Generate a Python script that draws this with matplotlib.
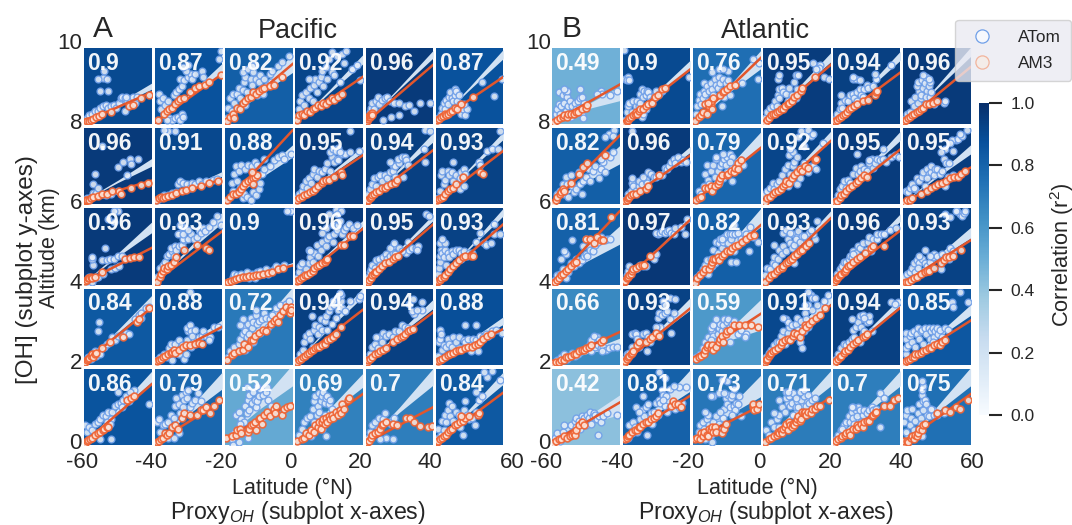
import matplotlib
matplotlib.use("Agg")
import matplotlib.pyplot as plt
from matplotlib.lines import Line2D
from matplotlib.transforms import ScaledTranslation
from matplotlib.cm import ScalarMappable
from matplotlib.colors import Normalize

plt.rcParams['font.family'] = ['Liberation Sans', 'DejaVu Sans']
plt.rcParams['mathtext.fontset'] = 'custom'
plt.rcParams['mathtext.rm'] = 'Liberation Sans'
plt.rcParams['mathtext.it'] = 'Liberation Sans:italic'
plt.rcParams['mathtext.bf'] = 'Liberation Sans:bold'
TEXT = '#262626'

LAT_TICKS = [-60, -40, -20, 0, 20, 40, 60]
ALT_TICKS = [0, 2, 4, 6, 8, 10]
R2_TICKS = [0.0, 0.2, 0.4, 0.6, 0.8, 1.0]

R2_PACIFIC = [[0.9, 0.87, 0.82, 0.92, 0.96, 0.87],
              [0.96, 0.91, 0.88, 0.95, 0.94, 0.93],
              [0.96, 0.93, 0.9, 0.96, 0.95, 0.93],
              [0.84, 0.88, 0.72, 0.94, 0.94, 0.88],
              [0.86, 0.79, 0.52, 0.69, 0.7, 0.84]]
R2_ATLANTIC = [[0.49, 0.9, 0.76, 0.95, 0.94, 0.96],
               [0.82, 0.96, 0.79, 0.92, 0.95, 0.95],
               [0.81, 0.97, 0.82, 0.93, 0.96, 0.93],
               [0.66, 0.93, 0.59, 0.91, 0.94, 0.85],
               [0.42, 0.81, 0.73, 0.71, 0.7, 0.75]]

# AM3 fit: value at the left and right edge of each subplot
FIT_PACIFIC = [[(3, 42), (2, 66), (4, 79), (2, 62), (2, 78), (2, 62)],
               [(5, 31), (3, 33), (1, 97), (5, 64), (3, 71), (2, 70)],
               [(3, 48), (3, 70), (1, 25), (2, 73), (3, 79), (2, 79)],
               [(3, 75), (3, 50), (5, 75), (3, 72), (3, 69), (3, 47)],
               [(3, 80), (3, 58), (10, 55), (4, 67), (3, 50), (3, 69)]]
FIT_ATLANTIC = [[(2, 52), (3, 72), (2, 87), (2, 78), (2, 68), (2, 75)],
                [(1, 90), (2, 64), (3, 74), (3, 83), (2, 72), (2, 48)],
                [(2, 96), (3, 85), (2, 78), (3, 87), (2, 71), (2, 58)],
                [(2, 43), (2, 74), (9, 67), (3, 78), (2, 75), (2, 58)],
                [(4, 56), (8, 65), (7, 52), (4, 63), (4, 65), (4, 67)]]

# ATom fit with confidence range: left value, right value, half range at the right edge
BAND_PACIFIC = [[(3, 50, 4), (0, 74, 6), (4, 80, 12), (0, 85, 6), (3, 92, 5), (2, 92, 6)],
                [(5, 55, 5), (3, 40, 3), (1, 70, 8), (5, 72, 4), (3, 88, 6), (2, 90, 5)],
                [(3, 75, 7), (3, 88, 7), (1, 27, 2), (2, 80, 4), (3, 88, 4), (2, 95, 5)],
                [(3, 85, 6), (3, 55, 4), (5, 90, 12), (3, 95, 6), (3, 80, 6), (3, 58, 5)],
                [(3, 90, 7), (3, 85, 11), (10, 92, 14), (4, 85, 9), (3, 90, 11), (3, 88, 8)]]
BAND_ATLANTIC = [[(5, 40, 9), (3, 78, 6), (2, 85, 12), (2, 88, 6), (2, 90, 6), (2, 95, 6)],
                 [(1, 65, 12), (2, 72, 4), (3, 85, 10), (3, 90, 6), (2, 90, 6), (2, 72, 6)],
                 [(2, 65, 12), (3, 88, 3), (2, 88, 12), (3, 92, 5), (2, 88, 5), (2, 68, 7)],
                 [(2, 30, 5), (2, 80, 8), (9, 66, 20), (3, 88, 7), (2, 83, 5), (2, 72, 7)],
                 [(12, 53, 13), (8, 85, 14), (7, 78, 14), (4, 88, 10), (4, 88, 10), (4, 90, 12)]]

ATOM_PACIFIC = [
 [[(4,8),(8,12),(12,14),(16,18),(20,17),(24,22),(28,24),(32,25),(36,22),(40,24),(44,25),(48,22),(52,28),(54,34),(56,36),(60,34),(64,30),(68,32),(72,36),(76,28),(30,70),(28,61),(34,59),(21,59),(24,44),(36,44),(60,18),(62,36),(78,36)],
  [(6,40),(8,30),(10,20),(12,35),(14,12),(16,25),(20,30),(22,8),(26,6),(30,8),(34,10),(38,6),(40,14),(42,10),(18,5),(28,38),(32,42),(36,46),(40,50),(38,60),(44,58),(50,62),(54,66),(46,70),(50,78),(42,75),(56,60),(60,66),(70,70),(72,62),(98,96),(96,86)],
  [(3,8),(5,22),(8,35),(10,18),(12,40),(14,28),(18,40),(20,48),(22,34),(26,45),(28,55),(30,62),(26,68),(32,42),(30,25),(34,72),(38,60),(40,52),(42,68),(44,78),(40,76),(46,60),(50,55),(52,65),(54,48),(48,38),(56,40),(58,60),(62,50),(66,66),(70,70),(68,55),(78,76),(84,82),(94,90)],
  [(2,10),(6,20),(8,30),(10,38),(14,25),(16,42),(20,35),(22,48),(26,30),(28,52),(30,60),(32,42),(36,55),(38,62),(40,70),(42,50),(46,75),(48,60),(50,85),(54,68),(58,65),(62,90),(66,55),(70,92),(72,80),(76,96),(84,72),(92,78),(96,58),(20,60),(55,95)],
  [(4,10),(6,16),(8,22),(10,28),(12,20),(16,30),(20,26),(18,36),(24,32),(28,34),(32,36),(36,30),(42,28),(50,28),(58,24),(64,25),(26,6),(38,10),(50,12),(72,18),(80,28),(96,28)],
  [(4,8),(8,14),(10,22),(12,28),(14,20),(16,32),(18,26),(20,36),(22,42),(24,34),(26,30),(28,38),(28,46),(30,44),(32,30),(34,38),(36,26),(38,14),(40,20),(44,12),(46,20),(42,26),(68,55),(86,37),(98,60)]],
 [[(5,8),(10,10),(14,15),(16,12),(22,12),(18,15),(28,13),(32,12),(40,14),(50,18),(63,38),(16,40),(14,27),(50,49),(58,55),(68,60),(80,60),(70,53),(26,77),(20,22)],
  [(4,6),(8,8),(14,12),(20,12),(26,15),(32,16),(34,26),(38,30),(42,28),(48,26),(52,22),(56,28),(60,26),(66,30),(70,26),(76,30),(86,32),(92,33),(20,96),(30,96),(14,98)],
  [(10,28),(12,18),(14,40),(16,50),(18,30),(20,44),(22,22),(24,52),(26,8),(28,14),(30,46),(32,10),(34,52),(36,30),(38,6),(40,50),(42,16),(44,56),(46,12),(48,52),(50,20),(52,28),(54,40),(58,46),(66,50),(72,58),(78,62),(84,64),(88,60),(98,66),(58,60)],
  [(2,8),(6,14),(10,18),(12,24),(16,30),(18,22),(20,34),(24,28),(26,40),(28,46),(32,36),(36,44),(40,42),(44,46),(48,54),(52,44),(54,62),(58,56),(62,60),(64,58),(52,68),(56,72),(64,74),(70,66),(74,66),(60,70),(66,68),(82,68),(94,70),(82,96)],
  [(2,8),(4,14),(6,20),(10,26),(12,34),(16,24),(18,36),(22,38),(24,30),(28,38),(32,34),(36,42),(40,44),(44,36),(40,52),(44,50),(36,56),(50,54),(48,60),(54,62),(58,62),(60,58),(62,52),(86,72),(88,56),(88,98),(96,96),(56,36)],
  [(4,8),(6,18),(8,38),(10,44),(12,26),(14,32),(18,44),(20,38),(24,42),(26,30),(30,38),(36,34),(38,42),(42,46),(40,34),(44,40),(36,20),(42,24),(26,55),(64,55),(66,52),(76,70),(84,72),(92,72),(96,96)]],
 [[(4,5),(8,10),(12,4),(16,8),(20,10),(14,26),(12,33),(12,36),(26,32),(34,32),(38,33),(44,34),(50,38),(56,38),(31,48),(36,86),(44,82),(50,97),(44,96),(28,14),(40,20),(46,22),(52,24)],
  [(4,10),(8,22),(12,26),(16,30),(18,38),(22,40),(26,44),(28,38),(24,48),(30,50),(32,46),(36,50),(40,52),(44,58),(42,60),(50,60),(54,66),(58,60),(62,62),(66,72),(68,68),(72,74),(74,70),(80,76),(86,82),(92,90),(98,78),(38,68),(34,66),(42,66),(44,76),(38,78),(50,72)],
  [(4,3),(8,5),(12,10),(14,14),(18,12),(24,14),(28,10),(32,16),(36,8),(40,14),(44,8),(48,16),(52,18),(56,14),(60,20),(64,14),(68,18),(72,20),(76,24),(82,22),(88,26),(96,96),(98,96),(92,96)],
  [(2,8),(6,16),(8,24),(10,28),(14,14),(16,20),(20,28),(22,36),(26,30),(28,42),(20,46),(22,44),(34,38),(32,52),(38,46),(40,56),(46,50),(48,60),(50,64),(56,56),(58,66),(62,72),(56,78),(64,78),(70,66),(72,72),(76,76),(80,80),(86,74),(92,78),(50,92),(60,98),(68,96),(62,92),(66,84),(46,74),(40,68)],
  [(3,10),(6,16),(8,20),(10,26),(14,22),(16,32),(20,34),(22,26),(26,36),(30,40),(32,34),(36,38),(40,42),(44,40),(40,50),(36,48),(42,54),(60,42),(64,46),(62,56),(68,48),(74,48),(78,50),(76,46),(90,92),(94,90),(50,48),(54,44)],
  [(3,14),(5,22),(6,30),(7,38),(8,46),(6,54),(10,42),(12,36),(14,46),(16,26),(18,42),(20,36),(24,44),(26,40),(30,46),(34,46),(38,42),(42,44),(46,38),(50,42),(54,42),(60,56),(66,68),(72,54),(74,52),(82,54),(86,66),(86,80),(96,66),(14,55),(10,60),(38,34)]],
 [[(2,5),(6,10),(10,8),(14,14),(16,18),(18,12),(22,18),(24,14),(30,24),(34,28),(38,30),(42,36),(46,32),(50,38),(56,38),(20,44),(22,56),(62,42),(66,40),(76,60),(84,62),(82,66),(84,68),(92,74),(96,76)],
  [(4,6),(8,10),(14,14),(18,10),(20,16),(22,22),(26,6),(30,20),(24,28),(30,28),(36,32),(36,14),(40,26),(44,8),(46,14),(48,32),(50,44),(48,48),(52,52),(54,44),(56,38),(60,46),(66,36),(70,38),(72,44),(76,38),(82,36),(88,50),(94,50),(54,24),(80,32),(52,96)],
  [(4,10),(8,18),(14,24),(20,28),(22,34),(26,40),(28,50),(30,44),(32,36),(34,54),(36,28),(38,62),(26,60),(40,48),(42,56),(46,66),(48,54),(46,72),(50,58),(52,42),(54,60),(58,68),(60,62),(64,50),(66,60),(70,66),(76,74),(82,78),(90,80),(94,84),(22,52),(30,20),(42,30),(36,40)],
  [(3,6),(8,14),(12,20),(14,30),(16,38),(20,42),(22,34),(26,24),(28,46),(30,52),(34,40),(36,50),(38,60),(40,46),(44,58),(46,64),(50,70),(48,46),(54,54),(52,76),(58,78),(60,62),(64,72),(68,84),(70,74),(74,70),(68,92),(82,84),(94,86),(96,90),(25,64),(62,88),(56,84),(66,94)],
  [(3,8),(6,14),(10,24),(14,28),(18,22),(20,36),(24,30),(26,42),(30,38),(34,40),(40,36),(44,44),(50,44),(54,52),(58,50),(62,48),(66,46),(71,67),(64,80),(68,70),(83,72),(84,82),(70,86),(76,72),(48,34),(16,36)],
  [(4,12),(5,30),(6,34),(7,46),(8,40),(10,20),(12,26),(16,24),(18,34),(20,28),(24,24),(26,36),(30,30),(34,36),(38,22),(42,32),(44,30),(48,34),(52,26),(56,34),(60,32),(66,38),(70,36),(44,52),(60,52),(74,40),(78,38),(84,44),(90,46),(98,42),(62,18),(34,22),(52,18)]],
 [[(2,26),(4,18),(8,24),(12,20),(16,28),(20,30),(24,34),(28,40),(32,38),(36,44),(42,44),(46,52),(50,54),(54,56),(58,60),(62,64),(66,58),(56,50),(40,34),(34,30),(40,8),(96,54),(74,72),(68,70),(24,8),(50,70),(38,28)],
  [(3,30),(6,34),(8,18),(12,26),(16,28),(20,30),(24,40),(28,36),(30,52),(32,62),(36,54),(38,42),(40,66),(44,60),(46,70),(48,62),(52,50),(56,56),(60,60),(64,68),(68,58),(72,48),(76,50),(50,72),(42,50),(20,10),(36,16),(28,10)],
  [(10,8),(14,16),(16,40),(20,44),(24,34),(28,30),(32,42),(30,52),(34,60),(32,76),(36,46),(40,56),(36,66),(42,70),(44,60),(46,50),(48,58),(50,64),(52,74),(48,78),(56,66),(60,70),(62,76),(64,60),(68,52),(12,0),(20,4),(34,10),(46,26),(54,36),(22,28)],
  [(6,14),(10,22),(14,30),(18,36),(22,38),(26,48),(28,58),(30,64),(32,40),(34,52),(36,68),(38,58),(40,64),(42,70),(44,56),(46,62),(48,64),(50,54),(52,60),(36,44),(28,30),(44,34),(24,12),(40,22),(46,12),(44,40),(54,48)],
  [(3,10),(6,18),(10,26),(14,30),(18,22),(20,36),(26,34),(28,42),(34,30),(30,10),(22,8),(38,28),(42,36),(40,8)],
  [(3,22),(4,10),(8,14),(10,32),(12,20),(16,30),(14,40),(18,46),(22,38),(26,32),(20,56),(24,52),(30,44),(34,40),(36,24),(40,14),(38,34),(42,46),(46,40),(50,34),(54,36),(58,26),(60,70),(64,60),(68,64),(76,90),(84,98),(96,86),(72,96),(60,44),(44,58)]],
]

AM3_PACIFIC = [
 [[(2,3),(5,4),(8,4),(11,5),(14,7),(18,10),(22,11),(26,13),(40,16),(66,24),(72,25),(84,34),(96,38)],
  [(5,5),(14,14),(18,17),(22,20),(26,22),(30,26),(34,30),(38,33),(44,35),(52,42),(60,48),(66,50),(74,52),(80,56),(98,65)],
  [(3,4),(8,10),(12,14),(14,8),(18,22),(22,20),(26,28),(30,30),(34,34),(38,36),(42,42),(46,40),(50,44),(54,46),(58,48),(66,50),(72,52),(84,62)],
  [(3,5),(6,12),(10,14),(14,12),(18,18),(22,16),(26,20),(30,22),(34,25),(38,24),(42,28),(46,26),(50,30),(54,34),(58,32),(64,36),(70,40)],
  [(2,4),(3,7),(4,9),(5,11),(6,9),(7,12),(8,13),(9,15),(10,12)],
  [(2,5),(5,7),(8,9),(11,11),(14,13),(16,12),(19,14),(22,16),(24,18),(28,22),(32,20),(38,26),(56,36)]],
 [[(1,4),(3,5),(5,6),(7,6),(10,8),(14,9),(20,11),(26,13),(34,14),(42,17),(52,17),(54,14),(70,21),(84,25),(95,28)],
  [(2,5),(6,8),(10,10),(12,8),(16,9),(20,11),(26,12),(32,15),(40,17),(46,19),(56,21),(68,24),(80,28),(94,31)],
  [(3,5),(8,10),(12,13),(16,14),(20,16),(24,20),(26,24),(30,28),(34,30),(38,32),(42,34),(44,36),(48,38),(42,26),(40,42)],
  [(3,6),(6,8),(10,10),(14,12),(18,14),(22,16),(26,18),(30,20),(34,24),(40,28),(42,30),(46,32),(50,32),(58,36),(68,42),(70,38)],
  [(2,4),(4,6),(6,8),(8,10),(10,12),(13,14),(16,16),(20,18),(24,21),(28,22),(32,24),(38,26),(44,28),(46,32)],
  [(2,5),(5,7),(8,8),(11,10),(14,14),(18,17),(22,20),(26,22),(30,26),(40,36),(66,42),(70,40)]],
 [[(2,5),(4,6),(6,8),(8,8),(10,10),(12,9),(16,10),(26,16),(60,34),(68,35),(74,36),(82,36)],
  [(3,3),(8,10),(10,14),(12,18),(14,22),(18,20),(20,24),(24,26),(28,30),(32,36),(44,46),(62,52),(76,48),(80,45)],
  [(2,2),(5,4),(9,5),(13,6),(17,7),(21,9),(26,10),(31,10),(36,11),(41,11),(46,12),(51,13),(56,14),(64,15),(70,16),(78,20),(86,22)],
  [(3,5),(6,6),(9,8),(12,10),(15,12),(18,13),(22,15),(26,18),(28,22),(32,24),(36,26),(40,28),(44,30),(46,32),(48,34),(68,52),(72,52),(82,64),(86,64)],
  [(3,4),(5,6),(8,8),(10,12),(12,14),(14,16),(16,16),(20,20),(24,24),(28,28),(34,30),(40,34),(44,36),(48,38)],
  [(2,4),(4,5),(6,6),(8,8),(12,10),(14,13),(18,17),(22,20),(26,24),(30,28),(34,32),(40,36),(44,38),(52,38),(56,38)]],
 [[(1,4),(4,6),(6,8),(8,9),(10,12),(12,14),(14,11),(16,14),(18,16),(26,22),(38,30),(58,36),(78,56),(82,60),(96,74)],
  [(3,5),(6,7),(9,8),(13,10),(16,12),(20,14),(24,15),(26,17),(28,19),(30,16),(36,20),(42,24),(46,26),(52,26),(60,28),(66,29),(70,28)],
  [(3,7),(10,13),(14,15),(20,18),(26,20),(28,28),(34,24),(38,32),(42,32),(44,38),(50,42),(56,46),(60,44),(68,54),(72,58),(76,60),(78,56),(82,66),(86,70),(90,76),(94,70),(96,68),(98,76),(98,72)],
  [(3,4),(6,6),(9,8),(12,10),(15,12),(18,14),(21,16),(24,18),(27,20),(30,22),(33,24),(36,24),(40,26),(44,28),(48,32),(52,34),(56,36),(60,40),(68,50)],
  [(2,4),(4,6),(7,8),(10,10),(14,14),(18,16),(22,18),(26,20),(30,22),(40,30),(46,34),(52,36),(56,38),(58,40),(62,44),(66,46),(70,47)],
  [(3,5),(6,6),(10,8),(14,10),(18,13),(22,14),(26,16),(30,18),(34,20),(38,20),(44,22),(48,24),(54,24),(58,26),(62,28),(66,30),(70,34),(76,38),(82,40)]],
 [[(2,3),(4,5),(6,7),(9,8),(12,10),(16,14),(20,16),(24,18),(28,20),(30,22),(34,24),(36,24),(64,60),(70,62),(74,64)],
  [(3,4),(6,6),(9,8),(12,10),(15,16),(18,14),(22,16),(26,24),(30,26),(34,22),(40,36),(44,42),(52,40),(62,40),(68,46),(72,46),(76,50),(82,42),(88,52),(96,59)],
  [(2,10),(10,12),(16,14),(18,20),(22,22),(24,16),(34,18),(36,22),(38,26),(42,28),(44,30),(46,20),(50,34),(52,36),(54,28),(58,40),(62,44),(66,38),(72,48),(76,52),(74,42),(84,40),(88,48),(92,50),(96,52)],
  [(3,6),(10,8),(14,10),(16,16),(20,14),(24,20),(28,18),(30,26),(34,24),(36,30),(38,22),(40,30),(42,34),(44,28),(46,36),(48,30),(50,38),(52,34),(54,40),(56,36),(60,44),(64,40),(66,46),(68,42),(70,54),(72,48),(78,60),(80,62)],
  [(2,4),(5,6),(8,10),(10,14),(14,16),(18,18),(22,22),(24,26),(26,28),(30,30),(40,28),(46,26),(60,36),(66,36),(72,30),(80,25),(92,24),(98,25)],
  [(2,4),(4,6),(6,8),(9,10),(12,12),(15,14),(18,18),(21,20),(24,22),(28,26),(32,28),(36,30),(40,32),(44,36),(50,38),(38,38),(62,40),(64,42)]],
]

ATOM_ATLANTIC = [
 [[(4,4),(6,14),(8,20),(10,26),(10,42),(12,14),(14,24),(16,38),(18,28),(20,18),(20,42),(22,36),(24,24),(26,30),(28,10),(30,24),(32,14),(34,28),(36,20),(38,30),(40,22),(42,34),(44,12),(46,8),(48,28),(44,36),(22,44),(96,44),(72,44),(74,40),(66,40),(18,46),(42,46),(86,38)],
  [(4,6),(6,16),(8,24),(10,28),(14,16),(16,30),(20,24),(22,30),(24,24),(26,28),(28,10),(30,14),(34,20),(26,40),(28,46),(30,36),(32,44),(34,38),(36,44),(38,42),(40,36),(42,30),(46,34),(48,38),(50,44),(54,40),(58,44),(4,60),(8,62),(6,58),(10,58),(2,98),(98,62)],
  [(4,14),(6,24),(8,32),(10,40),(12,26),(14,34),(16,44),(18,40),(16,54),(20,50),(22,30),(24,44),(26,54),(28,46),(30,38),(32,60),(34,52),(36,48),(38,62),(40,54),(42,44),(44,60),(46,36),(48,54),(50,46),(52,58),(54,38),(52,70),(28,68),(38,72),(44,72),(72,54),(98,80),(96,60),(88,86),(42,24)],
  [(2,8),(6,16),(10,22),(14,24),(18,30),(20,24),(22,38),(24,34),(24,46),(28,48),(30,42),(34,40),(38,48),(36,30),(42,38),(48,34),(46,56),(22,60),(24,64),(48,64),(52,64),(80,76),(74,80),(84,78),(90,62),(98,60),(50,46),(82,74),(78,72)],
  [(4,8),(6,14),(10,20),(12,28),(14,22),(18,32),(22,30),(26,38),(30,40),(32,34),(36,42),(40,46),(42,38),(46,46),(50,52),(52,48),(60,50),(12,38),(30,60),(34,60),(40,58),(64,60),(62,66),(30,62),(86,78),(44,36),(36,30)],
  [(4,8),(6,14),(10,16),(12,30),(16,24),(18,36),(22,28),(24,44),(26,34),(20,50),(22,56),(28,58),(30,48),(32,54),(34,62),(36,44),(38,50),(40,56),(26,38),(38,60),(30,64),(34,36),(40,36),(42,42),(60,28),(62,30),(46,26)]],
 [[(8,14),(12,18),(16,26),(18,14),(20,36),(22,26),(24,10),(28,38),(30,24),(32,16),(36,20),(40,42),(42,26),(44,14),(46,30),(50,36),(54,46),(56,30),(60,44),(64,50),(70,34),(72,46),(76,56),(78,42),(82,64),(86,62),(90,68),(72,60),(84,92),(92,98),(78,88),(90,90)],
  [(4,6),(8,14),(12,18),(14,28),(14,34),(16,24),(20,18),(24,24),(24,30),(28,26),(34,32),(36,28),(38,42),(42,40),(46,36),(50,36),(54,38),(58,38),(62,48),(66,46),(68,50),(72,56),(76,60),(78,54),(82,62),(86,56),(90,58),(94,56),(30,36),(14,96)],
  [(8,18),(12,14),(16,24),(18,40),(20,52),(22,32),(24,26),(26,44),(30,52),(32,36),(34,60),(36,44),(38,28),(40,50),(42,54),(44,34),(46,60),(48,52),(50,42),(50,62),(54,66),(58,62),(62,48),(66,54),(70,58),(58,30),(60,44),(34,62),(44,66),(74,52),(54,56)],
  [(2,14),(6,18),(10,22),(14,28),(16,20),(20,26),(24,30),(28,38),(32,46),(36,52),(36,24),(40,40),(44,50),(42,32),(46,56),(50,44),(50,26),(54,34),(56,48),(60,54),(62,46),(66,42),(70,50),(74,50),(78,46),(38,64),(44,68),(50,62),(56,96),(66,98),(52,88),(60,76),(70,90),(88,80),(74,92),(40,72)],
  [(4,6),(8,12),(10,20),(14,24),(16,30),(20,22),(22,32),(26,28),(30,40),(34,48),(38,40),(42,50),(40,44),(46,46),(50,44),(54,54),(58,60),(54,58),(60,48),(62,54),(66,60),(70,58),(74,60),(78,56),(36,66),(86,62),(92,64),(98,62),(74,72)],
  [(4,18),(8,16),(10,22),(14,26),(18,20),(20,34),(24,30),(28,36),(32,24),(30,42),(36,46),(38,40),(42,42),(46,38),(42,50),(48,46),(50,46),(54,40),(58,44),(60,60),(64,54),(68,54),(74,70),(62,72),(56,68),(78,84),(72,84),(82,86),(88,90),(84,92),(94,98),(70,80),(36,34),(66,36),(74,38),(62,24),(16,22)]],
 [[(4,6),(8,12),(12,14),(16,20),(20,8),(24,16),(28,28),(32,24),(36,34),(40,28),(44,32),(48,38),(50,40),(52,38),(54,50),(56,46),(60,44),(64,52),(68,56),(72,62),(78,58),(82,60),(86,60),(30,58),(50,60),(20,40),(14,34),(18,44),(46,50)],
  [(4,6),(6,12),(8,18),(10,24),(14,20),(18,20),(22,22),(26,26),(30,24),(34,24),(46,34),(50,40),(52,66),(50,68),(56,68),(58,70),(62,68),(66,70),(68,72),(72,68),(76,66),(78,74),(86,76),(92,66),(96,86)],
  [(6,10),(10,14),(14,20),(18,26),(20,32),(22,14),(26,34),(28,24),(30,46),(32,28),(34,56),(36,42),(38,54),(40,60),(42,48),(44,56),(46,62),(48,44),(50,66),(52,54),(54,66),(56,60),(58,66),(60,44),(62,66),(66,68),(70,60),(76,60),(82,44),(56,30),(64,30),(42,60),(84,76),(96,56),(78,66),(60,78),(88,62)],
  [(2,12),(6,22),(10,20),(14,28),(18,26),(16,36),(22,34),(24,46),(28,40),(30,50),(34,44),(36,60),(40,54),(42,48),(46,52),(44,66),(50,62),(48,60),(54,56),(52,70),(58,64),(60,50),(64,62),(68,68),(72,70),(76,60),(74,66),(70,72),(16,52),(46,28),(80,84),(60,64),(30,68),(34,72),(40,68)],
  [(2,6),(6,14),(10,20),(14,24),(16,30),(20,30),(24,34),(26,38),(28,36),(30,44),(34,42),(38,50),(40,48),(44,54),(50,46),(52,56),(54,62),(60,60),(66,60),(66,66),(72,66),(76,66),(84,72),(94,74),(30,40),(56,44)],
  [(2,10),(6,14),(10,16),(14,22),(16,28),(20,32),(24,28),(28,34),(32,28),(36,24),(20,18),(18,16),(22,22),(40,30),(44,36),(46,40),(50,38),(23,38),(32,46),(40,38),(57,33),(72,37),(58,40),(62,36),(70,48),(74,44),(68,34),(56,20),(80,96),(84,92),(88,90),(90,94),(62,92),(70,88),(78,96),(92,96)]],
 [[(4,2),(8,6),(14,10),(18,14),(22,8),(26,12),(30,16),(34,12),(38,14),(42,18),(46,20),(50,22),(54,24),(56,28),(58,18),(60,30),(62,34),(64,24),(68,26),(72,22),(76,24),(80,20),(84,22),(90,24),(96,24),(66,36),(58,32),(62,38),(70,32),(74,18)],
  [(4,8),(6,14),(10,16),(14,24),(14,40),(18,42),(20,40),(22,34),(26,30),(30,40),(34,42),(36,18),(38,36),(40,30),(46,38),(50,40),(54,42),(56,50),(52,62),(54,68),(58,66),(62,68),(66,70),(72,42),(50,50),(70,60),(76,68),(60,84),(70,88),(78,86),(62,78),(24,24)],
  [(4,10),(10,14),(14,22),(18,30),(20,26),(22,36),(26,24),(28,44),(30,38),(32,30),(26,48),(34,52),(36,40),(38,48),(30,52),(40,54),(42,44),(44,52),(46,60),(48,46),(50,56),(52,60),(54,50),(58,54),(60,58),(66,40),(70,46),(78,40),(54,30),(34,60),(76,36),(26,32)],
  [(4,10),(8,16),(12,20),(16,26),(20,30),(24,30),(26,38),(30,44),(32,28),(36,42),(38,50),(34,60),(36,56),(30,62),(42,52),(44,36),(48,54),(50,62),(52,46),(54,30),(56,58),(58,22),(60,44),(62,68),(66,50),(64,60),(66,78),(62,78),(72,72),(70,92),(66,96),(72,88),(80,78),(90,84),(96,92),(76,88)],
  [(4,8),(8,14),(12,22),(16,28),(20,26),(24,30),(28,34),(32,36),(30,46),(34,50),(38,56),(42,50),(44,40),(46,44),(46,60),(50,56),(54,58),(28,60),(40,64),(44,66),(54,64),(46,62),(86,82),(96,82),(92,80),(40,30),(58,44)],
  [(4,14),(4,22),(4,34),(4,42),(8,26),(10,38),(12,42),(14,30),(16,44),(18,24),(20,40),(22,48),(24,34),(26,44),(28,46),(30,28),(32,48),(34,40),(38,48),(40,34),(42,44),(44,48),(46,36),(48,44),(50,48),(52,40),(54,46),(58,36),(62,48),(66,46),(84,96),(72,82),(74,76),(96,82),(44,30)]],
 [[(4,10),(8,16),(12,6),(16,18),(18,26),(20,12),(24,14),(28,26),(30,18),(34,32),(36,24),(36,36),(40,32),(42,22),(44,38),(46,30),(48,36),(50,26),(52,40),(54,36),(56,44),(58,28),(60,38),(62,42),(64,40),(66,34),(68,14),(70,38),(72,30),(76,38),(82,42),(96,40)],
  [(4,8),(8,10),(10,26),(14,16),(16,30),(18,24),(22,18),(26,34),(28,46),(32,38),(34,50),(36,14),(38,54),(40,30),(42,42),(44,28),(46,44),(50,56),(52,40),(54,60),(56,56),(58,72),(60,66),(62,52),(64,64),(66,44),(70,50),(74,56),(78,48),(84,50),(88,56),(94,76),(84,76),(30,64),(20,50),(60,60),(62,88),(54,96),(70,74),(76,78),(24,44)],
  [(4,10),(8,18),(10,26),(14,30),(16,22),(18,8),(20,34),(24,26),(26,14),(28,4),(30,30),(32,20),(22,40),(18,44),(34,38),(38,28),(42,24),(44,36),(46,48),(48,62),(50,54),(52,66),(54,50),(56,62),(58,66),(60,52),(62,46),(64,56),(66,54),(68,64),(30,64),(26,64),(38,68),(46,68),(70,38),(50,84),(42,86),(60,74),(40,44),(58,40)],
  [(4,20),(8,14),(12,30),(16,24),(20,34),(24,40),(28,50),(32,44),(24,60),(36,56),(34,62),(40,52),(44,40),(42,56),(48,50),(50,58),(52,50),(56,60),(60,64),(64,52),(68,56),(40,70),(38,64),(34,70),(44,68),(48,62),(54,70),(60,72),(66,66),(72,60),(76,62),(36,70),(24,24),(16,42),(40,28)],
  [(4,8),(8,14),(12,20),(16,26),(20,30),(24,38),(26,30),(28,44),(30,36),(32,28),(34,46),(36,38),(38,50),(40,46),(42,30),(44,40),(46,46),(50,42),(54,46),(58,50),(60,46),(62,42),(64,48),(30,50),(28,50),(70,68),(14,22),(70,24),(76,62)],
  [(2,30),(4,40),(6,46),(8,14),(10,26),(12,36),(14,48),(16,20),(18,32),(20,12),(22,42),(24,22),(26,36),(24,54),(30,58),(26,28),(28,12),(22,18),(28,66),(28,72),(30,78),(28,84),(32,60),(34,54),(38,44),(36,40),(40,48),(42,40),(44,46),(38,38),(30,46),(46,40),(50,40),(60,42),(4,18),(42,48)]],
]

AM3_ATLANTIC = [
 [[(3,3),(8,6),(12,8),(16,9),(18,12),(22,10),(24,13),(28,14),(32,14),(36,16),(38,16),(44,20),(50,22),(52,25)],
  [(4,2),(6,4),(8,6),(10,8),(12,10),(16,12),(18,14),(20,16),(22,14),(24,18),(26,20),(30,20),(34,24),(38,26),(44,28),(48,36),(52,38),(58,46),(62,48)],
  [(2,4),(8,10),(12,12),(14,16),(17,26),(20,14),(24,24),(26,26),(27,31),(30,34),(28,20),(22,28),(40,38),(44,42),(46,44),(50,46),(54,50),(62,52)],
  [(2,2),(5,6),(8,8),(12,12),(14,14),(18,14),(20,16),(24,18),(26,20),(30,20),(32,24),(36,26),(38,28),(42,30),(46,36),(50,38),(56,44),(76,62),(58,48)],
  [(3,4),(6,6),(9,8),(12,10),(15,12),(18,14),(21,16),(24,20),(27,22),(32,24),(36,26),(44,30),(52,32),(62,38),(64,42),(66,44)],
  [(2,4),(5,6),(8,8),(11,10),(14,12),(17,14),(20,16),(23,18),(26,20),(30,22),(34,26),(38,26),(44,28),(50,30)]],
 [[(2,2),(6,6),(8,10),(12,14),(14,16),(16,20),(18,18),(28,28),(40,40),(46,49),(52,54),(78,65)],
  [(2,2),(4,4),(6,5),(8,8),(10,10),(12,12),(16,14),(20,14),(26,18),(34,20),(38,24),(54,38)],
  [(4,6),(8,8),(12,10),(18,22),(22,22),(26,24),(28,18),(32,24),(36,26),(38,30),(40,34),(42,38),(50,38),(52,40),(56,44),(60,42),(62,48),(66,54),(70,58),(66,46)],
  [(2,3),(6,8),(10,10),(14,14),(18,16),(22,18),(26,20),(30,24),(32,26),(34,30),(38,28),(42,34),(46,38),(50,42),(54,46),(58,44),(62,50),(66,48),(76,58),(78,60)],
  [(3,3),(6,4),(10,8),(12,12),(16,14),(20,18),(24,22),(28,24),(34,28),(38,30),(42,34),(46,38),(50,36)],
  [(3,3),(6,5),(10,6),(14,8),(26,14),(36,18),(42,22),(48,24),(52,26),(58,28),(64,30),(70,34),(76,36),(82,36),(86,40),(92,44)]],
 [[(2,2),(5,4),(8,6),(11,9),(14,12),(17,14),(20,18),(24,20),(28,24),(32,28),(36,30),(50,60),(56,60),(62,54),(66,62),(72,58),(76,58),(88,88)],
  [(2,3),(4,5),(6,8),(8,10),(10,12),(12,14),(14,18),(16,20),(20,22),(24,24),(28,26),(32,26),(40,38)],
  [(2,2),(6,8),(10,12),(14,16),(18,20),(24,20),(26,26),(28,30),(30,34),(32,34),(36,36),(38,32),(42,38),(46,40),(50,44),(54,44),(58,48),(62,50),(66,52),(72,56),(78,60),(84,64),(90,65)],
  [(2,4),(8,8),(12,12),(16,14),(20,18),(24,20),(28,22),(30,24),(34,28),(36,30),(40,32),(42,34),(46,38),(50,40),(54,44),(58,46),(64,50),(68,54)],
  [(2,4),(4,6),(6,8),(8,10),(10,12),(12,14),(16,16),(18,18),(20,20),(22,24),(26,26),(30,30),(36,34),(40,36),(48,42),(56,48),(60,50),(76,51)],
  [(2,2),(5,3),(8,4),(12,6),(16,8),(20,10),(26,14),(32,16),(36,18),(38,18),(46,22),(56,28),(60,32),(64,36),(68,36),(74,38),(86,46)]],
 [[(2,2),(6,4),(10,4),(14,6),(18,6),(20,10),(24,10),(28,12),(32,14),(36,14),(40,18),(44,20),(48,20),(50,22),(54,24),(58,26),(72,30),(76,32)],
  [(2,2),(4,5),(6,8),(8,10),(10,12),(12,14),(14,16),(16,18),(22,26),(24,30),(34,30),(40,34),(44,36),(50,42),(54,38)],
  [(4,8),(8,10),(12,12),(16,14),(18,20),(20,24),(22,26),(26,22),(28,26),(30,20),(34,24),(38,30),(40,34),(42,38),(44,30),(48,40),(50,44),(54,46),(60,52),(68,52),(76,52),(86,52),(96,50)],
  [(2,4),(4,6),(6,8),(8,12),(10,14),(12,16),(14,18),(18,20),(22,22),(26,26),(28,30),(32,32),(36,34),(40,32),(44,38),(46,42),(50,40),(54,36),(58,44),(62,52),(64,50),(68,54),(72,58),(78,62),(84,66),(92,74)],
  [(2,2),(4,5),(7,8),(10,10),(12,12),(16,16),(18,18),(22,20),(26,24),(30,28),(34,30),(38,32),(44,36),(48,38),(50,40)],
  [(2,3),(4,5),(7,6),(10,8),(13,10),(16,10),(18,14),(22,14),(26,16),(30,18),(34,20),(38,22),(42,22),(46,26),(50,28),(54,26),(58,30),(62,32)]],
 [[(2,3),(6,6),(10,8),(14,8),(18,12),(22,10),(26,12),(30,14),(32,16),(34,14),(36,20),(40,26),(44,30),(48,26)],
  [(4,8),(6,10),(8,12),(10,14),(14,18),(18,20),(22,20),(24,24),(26,24),(30,28),(34,30),(38,30),(42,34),(46,36),(50,38),(52,42),(72,52),(74,58),(78,54),(82,54),(86,50)],
  [(2,8),(6,10),(10,8),(12,16),(14,12),(16,18),(20,14),(22,12),(24,22),(26,20),(28,24),(30,18),(32,24),(34,18),(42,16),(46,22),(48,28),(88,50),(88,54),(90,46),(94,48),(98,54)],
  [(2,4),(8,8),(12,10),(16,12),(20,14),(22,18),(24,16),(26,20),(28,16),(30,22),(32,24),(34,28),(36,20),(38,30),(40,26),(42,24),(44,28),(46,26),(48,30),(50,34),(52,38),(54,32),(56,34),(58,44),(60,42),(62,44),(64,40),(66,44),(70,42),(72,48),(76,48),(80,52),(84,52),(98,60)],
  [(2,3),(5,5),(8,8),(12,10),(14,12),(18,14),(20,16),(24,18),(26,14),(30,22),(34,22),(36,26),(38,24),(42,28),(44,24),(46,30),(50,32),(54,32),(58,38),(60,40),(62,42),(64,44),(76,52),(84,52),(90,60),(96,62)],
  [(2,5),(6,6),(8,4),(12,10),(14,12),(16,8),(18,14),(20,12),(22,16),(24,22),(28,20),(30,26),(32,28),(50,42),(62,46),(70,44),(78,50),(84,48),(96,60)]],
]

W, H = 1072, 525


def rect(x0, y0, x1, y1):
    return [x0 / W, 1 - y1 / H, (x1 - x0) / W, (y1 - y0) / H]


fig = plt.figure(figsize=(W / 100, H / 100), dpi=100)
CMAP = plt.get_cmap('Blues')
ATOM_EDGE = '#6f9fe8'
ATOM_FACE = '#e4edf9'
AM3_EDGE = '#ee6232'
AM3_FACE = '#fde3d8'
ROW_TOP = [48, 128, 208.3, 288.6, 369]
CELL_H = 76.3
CELL_W = 67.6
COL_A = [84, 154.6, 225, 295, 365.6, 435.6]
COL_B = [552, 622.6, 693.2, 763.2, 832.8, 903]


def panel(outer, label_shift, y_pad, r2s, fits, bands, atoms, am3s, cols):
    out = fig.add_axes(rect(outer[0], 41, outer[1], 441))
    out.set_xlim(-60, 60)
    out.set_ylim(0, 10)
    for s in out.spines.values():
        s.set_visible(False)
    out.patch.set_visible(False)
    out.set_xticks(LAT_TICKS)
    out.set_xticklabels([str(v) for v in LAT_TICKS])
    out.set_yticks(ALT_TICKS)
    out.set_yticklabels([str(v) for v in ALT_TICKS])
    out.tick_params(axis='x', length=0, pad=8, labelsize=16, labelcolor=TEXT)
    out.tick_params(axis='y', length=0, pad=y_pad, labelsize=16, labelcolor=TEXT)
    if label_shift:
        lab = out.get_xticklabels()[-1]
        lab.set_transform(lab.get_transform() + ScaledTranslation(label_shift / 100, 0, fig.dpi_scale_trans))
    for r, top in enumerate(ROW_TOP):
        for c, left in enumerate(cols):
            ax = fig.add_axes(rect(left, top, left + CELL_W, top + CELL_H))
            ax.set_xlim(0, 100)
            ax.set_ylim(0, 100)
            ax.set_xticks([])
            ax.set_yticks([])
            ax.set_facecolor(CMAP(r2s[r][c]))
            for s in ax.spines.values():
                s.set_visible(False)
            y0, y1, w = bands[r][c]
            mid = (y0 + y1) / 2
            ax.fill_between([0, 50, 100], [y0, mid - w * 0.3, y1 - w], [y0, mid + w * 0.3, y1 + w],
                            color='#d2e2f3', lw=0, zorder=2)
            ax.scatter(*zip(*atoms[r][c]), s=24, facecolor=ATOM_FACE, edgecolor=ATOM_EDGE,
                       linewidth=1.0, alpha=0.9, zorder=3)
            a, b = fits[r][c]
            ax.plot([0, 100], [a, b], color='#e2562c', lw=1.8, zorder=4)
            ax.scatter(*zip(*am3s[r][c]), s=24, facecolor=AM3_FACE, edgecolor=AM3_EDGE,
                       linewidth=1.2, alpha=0.9, zorder=5)
            ax.text(5, 95, str(r2s[r][c]), transform=ax.transData, ha='left', va='top',
                    color='white', fontsize=16.5, fontweight='bold', alpha=0.95, zorder=6)


panel((82, 499), 13, 0, R2_PACIFIC, FIT_PACIFIC, BAND_PACIFIC, ATOM_PACIFIC, AM3_PACIFIC, COL_A)
panel((546, 972), 0, -3.5, R2_ATLANTIC, FIT_ATLANTIC, BAND_ATLANTIC, ATOM_ATLANTIC, AM3_ATLANTIC, COL_B)


def txt(x, y, s, size, **kw):
    fig.text(x / W, 1 - y / H, s, fontsize=size, color=TEXT, ha=kw.pop('ha', 'center'), va='center', **kw)


txt(103, 29, 'A', 21.5)
txt(571, 29, 'B', 21.5)
txt(298, 31, 'Pacific', 19.5)
txt(765, 31, 'Atlantic', 19.5)
txt(292, 488, 'Latitude (°N)', 15.5)
txt(757, 488, 'Latitude (°N)', 15.5)
txt(298, 513, 'Proxy$_{OH}$ (subplot x-axes)', 16.7)
txt(766, 513, 'Proxy$_{OH}$ (subplot x-axes)', 16.7)
txt(49, 248, 'Altitude (km)', 15.5, rotation=90)
txt(27, 270, '[OH] (subplot y-axes)', 17.5, rotation=90)

cax = fig.add_axes(rect(979, 103, 989, 415))
cb = fig.colorbar(ScalarMappable(norm=Normalize(0, 1), cmap=CMAP), cax=cax)
cb.set_ticks(R2_TICKS)
cb.set_ticklabels([f'{v:.1f}' for v in R2_TICKS])
cb.outline.set_visible(False)
cax.tick_params(length=9, width=1.5, color=TEXT, labelcolor=TEXT, labelsize=12.6, pad=6.5)
txt(1062, 255, 'Correlation (r$^2$)', 15.7, rotation=90)

handles = [Line2D([], [], marker='o', ls='', ms=9.5, mfc='#f6f8fd', mec=ATOM_EDGE, mew=0.9),
           Line2D([], [], marker='o', ls='', ms=9.5, mfc='#f4ece8', mec='#f2b49c', mew=0.9)]
leg = fig.legend(handles, ['ATom', 'AM3'], loc='upper right', bbox_to_anchor=(1071 / W, 1 - 20 / H),
                 borderaxespad=0, fontsize=12.4, labelspacing=0.63, handlelength=2, handletextpad=1.09,
                 borderpad=0.57, frameon=True, facecolor='#eaeaf2', edgecolor='#cccccc', framealpha=0.8,
                 labelcolor=TEXT)

fig.savefig('out.png', dpi=100)
